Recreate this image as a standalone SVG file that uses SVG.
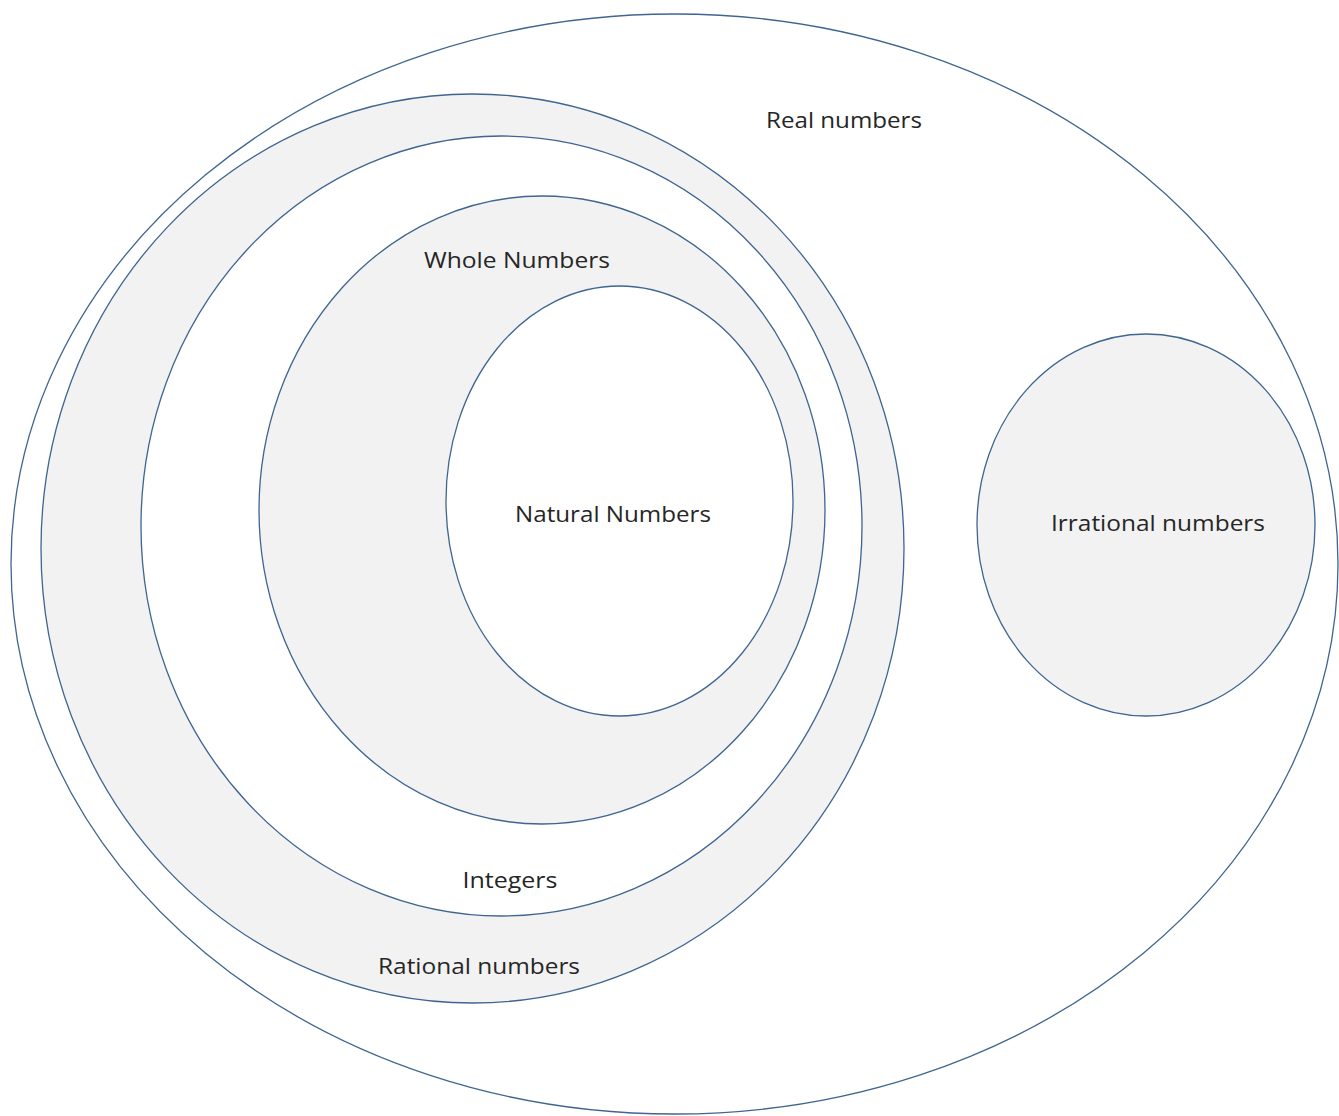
<svg xmlns="http://www.w3.org/2000/svg" width="1339" height="1116" viewBox="0 0 1339 1116">
<style>
.set{stroke:#3f6590;stroke-width:1.3}
.w{fill:#ffffff}
.g{fill:#f2f2f2}
text{font-family:"Open Sans","Liberation Sans",sans-serif;font-size:21px;fill:#262626;text-anchor:middle}
</style>
<rect width="1339" height="1116" fill="#ffffff"/>
<g id="real"><ellipse class="set w" cx="674.5" cy="564" rx="663.5" ry="550"/><text x="844" y="128" textLength="156" lengthAdjust="spacingAndGlyphs">Real numbers</text></g>
<g id="rational"><ellipse class="set g" cx="472.5" cy="548.5" rx="431.5" ry="454.5"/><text x="479" y="974" textLength="202" lengthAdjust="spacingAndGlyphs">Rational numbers</text></g>
<g id="integers"><ellipse class="set w" cx="501.5" cy="526" rx="360.5" ry="390"/><text x="510" y="888" textLength="95" lengthAdjust="spacingAndGlyphs">Integers</text></g>
<g id="whole"><ellipse class="set g" cx="542" cy="510" rx="283" ry="314"/><text x="517" y="268" textLength="186" lengthAdjust="spacingAndGlyphs">Whole Numbers</text></g>
<g id="natural"><ellipse class="set w" cx="619.5" cy="501" rx="173.5" ry="215"/><text x="613" y="522" textLength="196" lengthAdjust="spacingAndGlyphs">Natural Numbers</text></g>
<g id="irrational"><ellipse class="set g" cx="1146" cy="525" rx="169" ry="191"/><text x="1158" y="531" textLength="214" lengthAdjust="spacingAndGlyphs">Irrational numbers</text></g>
<g id="connectors"/>
</svg>
